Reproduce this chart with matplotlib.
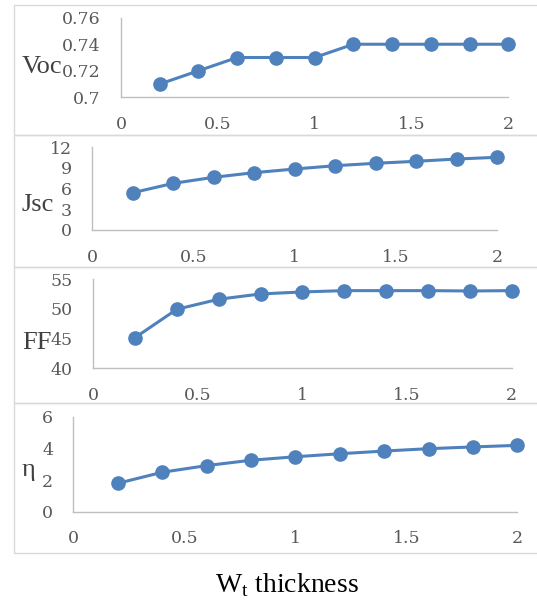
import matplotlib
matplotlib.use("Agg")
import matplotlib.pyplot as plt
from matplotlib.patches import Rectangle

# thickness values and the four cell parameters
thickness = [0.2, 0.4, 0.6, 0.8, 1.0, 1.2, 1.4, 1.6, 1.8, 2.0]
voc = [0.71, 0.72, 0.73, 0.73, 0.73, 0.74, 0.74, 0.74, 0.74, 0.74]
jsc = [5.41, 6.77, 7.65, 8.32, 8.85, 9.33, 9.68, 9.97, 10.30, 10.55]
ff = [45.16, 49.95, 51.64, 52.53, 52.87, 53.09, 53.09, 53.09, 53.03, 53.09]
eta = [1.79, 2.49, 2.91, 3.25, 3.47, 3.66, 3.83, 3.98, 4.09, 4.19]

names = ["Voc", "Jsc", "FF", "η"]
series = [voc, jsc, ff, eta]
yticks = [[0.7, 0.72, 0.74, 0.76], [0, 3, 6, 9, 12], [40, 45, 50, 55], [0, 2, 4, 6]]
ytick_labels = [["0.7", "0.72", "0.74", "0.76"], ["0", "3", "6", "9", "12"],
                ["40", "45", "50", "55"], ["0", "2", "4", "6"]]
xticks = [0, 0.5, 1, 1.5, 2]
xtick_labels = ["0", "0.5", "1", "1.5", "2"]

W, H = 537, 600
plt.rcParams["mathtext.fontset"] = "custom"
plt.rcParams["mathtext.rm"] = "Liberation Serif"

fig = plt.figure(figsize=(W / 100, H / 100), dpi=100)

# pixel boxes (left, right, top, bottom) of each plot area
boxes = [(121, 508.3, 17.7, 97.3),
         (92.2, 497.3, 147.3, 230),
         (93.1, 511.7, 279.3, 368.3),
         (73.3, 517.3, 416.7, 511.7)]
# panel frames (top, bottom) in pixels
frames = [(5, 135), (135, 267), (267, 403), (403, 553)]
# y-label positions (x centre, baseline) in pixels
label_pos = [(42, 73), (38, 211), (37, 349), (28, 476)]

line_color = "#4F81BD"
axis_color = "#BFBFBF"
text_color = "#595959"

for i in range(4):
    top, bot = frames[i]
    fig.add_artist(Rectangle((14 / W, 1 - bot / H), 1.0, (bot - top) / H,
                             transform=fig.transFigure, fill=False,
                             edgecolor="#D9D9D9", linewidth=1.0))

    x0, x1, y0, y1 = boxes[i]
    ax = fig.add_axes([x0 / W, 1 - y1 / H, (x1 - x0) / W, (y1 - y0) / H])
    ax.patch.set_alpha(0)
    ax.plot(thickness, series[i], color=line_color, linewidth=2.2,
            marker="o", markersize=9.5, clip_on=False, zorder=3)
    ax.set_xlim(0, 2)
    ax.set_ylim(yticks[i][0], yticks[i][-1])
    ax.set_xticks(xticks)
    ax.set_xticklabels(xtick_labels)
    ax.set_yticks(yticks[i])
    ax.set_yticklabels(ytick_labels[i])
    for s in ["top", "right"]:
        ax.spines[s].set_visible(False)
    for s in ["left", "bottom"]:
        ax.spines[s].set_color(axis_color)
        ax.spines[s].set_linewidth(1.0)
    ax.tick_params(axis="both", length=0, colors=text_color, labelsize=12.5)
    ax.tick_params(axis="x", pad=13.5)
    ax.tick_params(axis="y", pad=14.5)
    for lab in ax.get_xticklabels() + ax.get_yticklabels():
        lab.set_family("DejaVu Serif")

    lx, ly = label_pos[i]
    fig.text(lx / W, 1 - ly / H, names[i], ha="center", va="baseline",
             fontsize=19, family="Liberation Serif", color="#404040")

fig.text(287 / W, 1 - 592 / H, r"W$_\mathrm{t}$ thickness", ha="center",
         va="baseline", fontsize=20, family="Liberation Serif", color="black")

fig.savefig("out.png", dpi=100)
